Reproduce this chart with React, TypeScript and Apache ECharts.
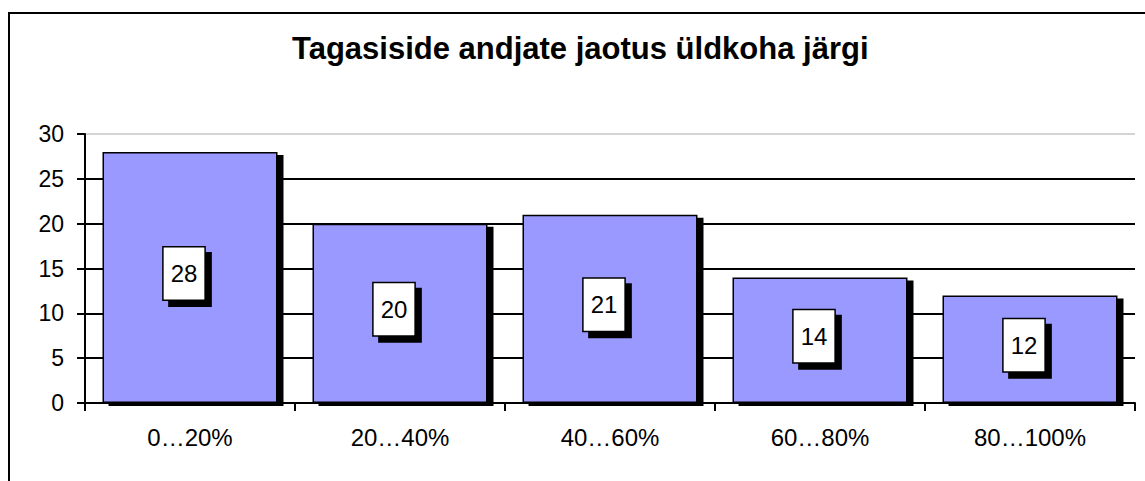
import React, { useEffect, useRef } from "react";
import * as echarts from "echarts";

const chartTitle = "Tagasiside andjate jaotus üldkoha järgi";
const categories = ["0…20%", "20…40%", "40…60%", "60…80%", "80…100%"];
const values = [28, 20, 21, 14, 12];
const yMin = 0;
const yMax = 30;
const yInterval = 5;

export default function App() {
  const ref = useRef<HTMLDivElement>(null);
  useEffect(() => {
    const chart = echarts.init(ref.current!, null, { renderer: "svg" });
    chart.setOption({
      animation: false,
      backgroundColor: "#fff",
      title: {
        text: chartTitle,
        left: 292,
        top: 33,
        padding: 0,
        textStyle: { fontFamily: "Liberation Sans", fontSize: 31, fontWeight: "bold", color: "#000" },
      },
      graphic: [
        {
          type: "rect",
          silent: true,
          z: -1,
          shape: { x: 9, y: 13, width: 1200, height: 600 },
          style: { fill: "none", stroke: "#000", lineWidth: 2 },
        },
      ],
      grid: { left: 85, right: 10, top: 134, bottom: 78 },
      xAxis: {
        type: "category",
        data: categories,
        z: 3,
        axisLine: { lineStyle: { color: "#000", width: 2 } },
        axisTick: { show: true, length: 8, lineStyle: { color: "#000", width: 2 } },
        axisLabel: { margin: 22, color: "#000", fontFamily: "Liberation Sans", fontSize: 24 },
      },
      yAxis: {
        type: "value",
        min: yMin,
        max: yMax,
        interval: yInterval,
        axisLine: { show: true, lineStyle: { color: "#000", width: 2 } },
        axisTick: { show: true, length: 8, lineStyle: { color: "#000", width: 2 } },
        axisLabel: { margin: 21, color: "#000", fontFamily: "Liberation Sans", fontSize: 23 },
        splitLine: {
          show: true,
          lineStyle: { color: ["#000", "#000", "#000", "#000", "#000", "#000", "#d4d4d4"], width: 2 },
        },
      },
      series: [
        {
          type: "bar",
          data: values,
          barWidth: 175,
          itemStyle: {
            color: "#9999FF",
            borderColor: "#000",
            borderWidth: 1.5,
            shadowColor: "#000",
            shadowOffsetX: 6,
            shadowOffsetY: 3,
            shadowBlur: 0,
          },
          label: {
            show: true,
            position: "inside",
            offset: [-6, -4],
            color: "#000",
            fontFamily: "Liberation Sans",
            fontSize: 24,
            lineHeight: 24,
            backgroundColor: "#fff",
            borderColor: "#000",
            borderWidth: 1.5,
            padding: [14, 7],
            shadowColor: "#000",
            shadowOffsetX: 6,
            shadowOffsetY: 6,
            shadowBlur: 0,
          },
        },
      ],
    });
    return () => chart.dispose();
  }, []);
  return (
    <div
      ref={ref}
      style={{ position: "absolute", left: 0, top: 0, width: 1145, height: 481, background: "#fff" }}
    />
  );
}
